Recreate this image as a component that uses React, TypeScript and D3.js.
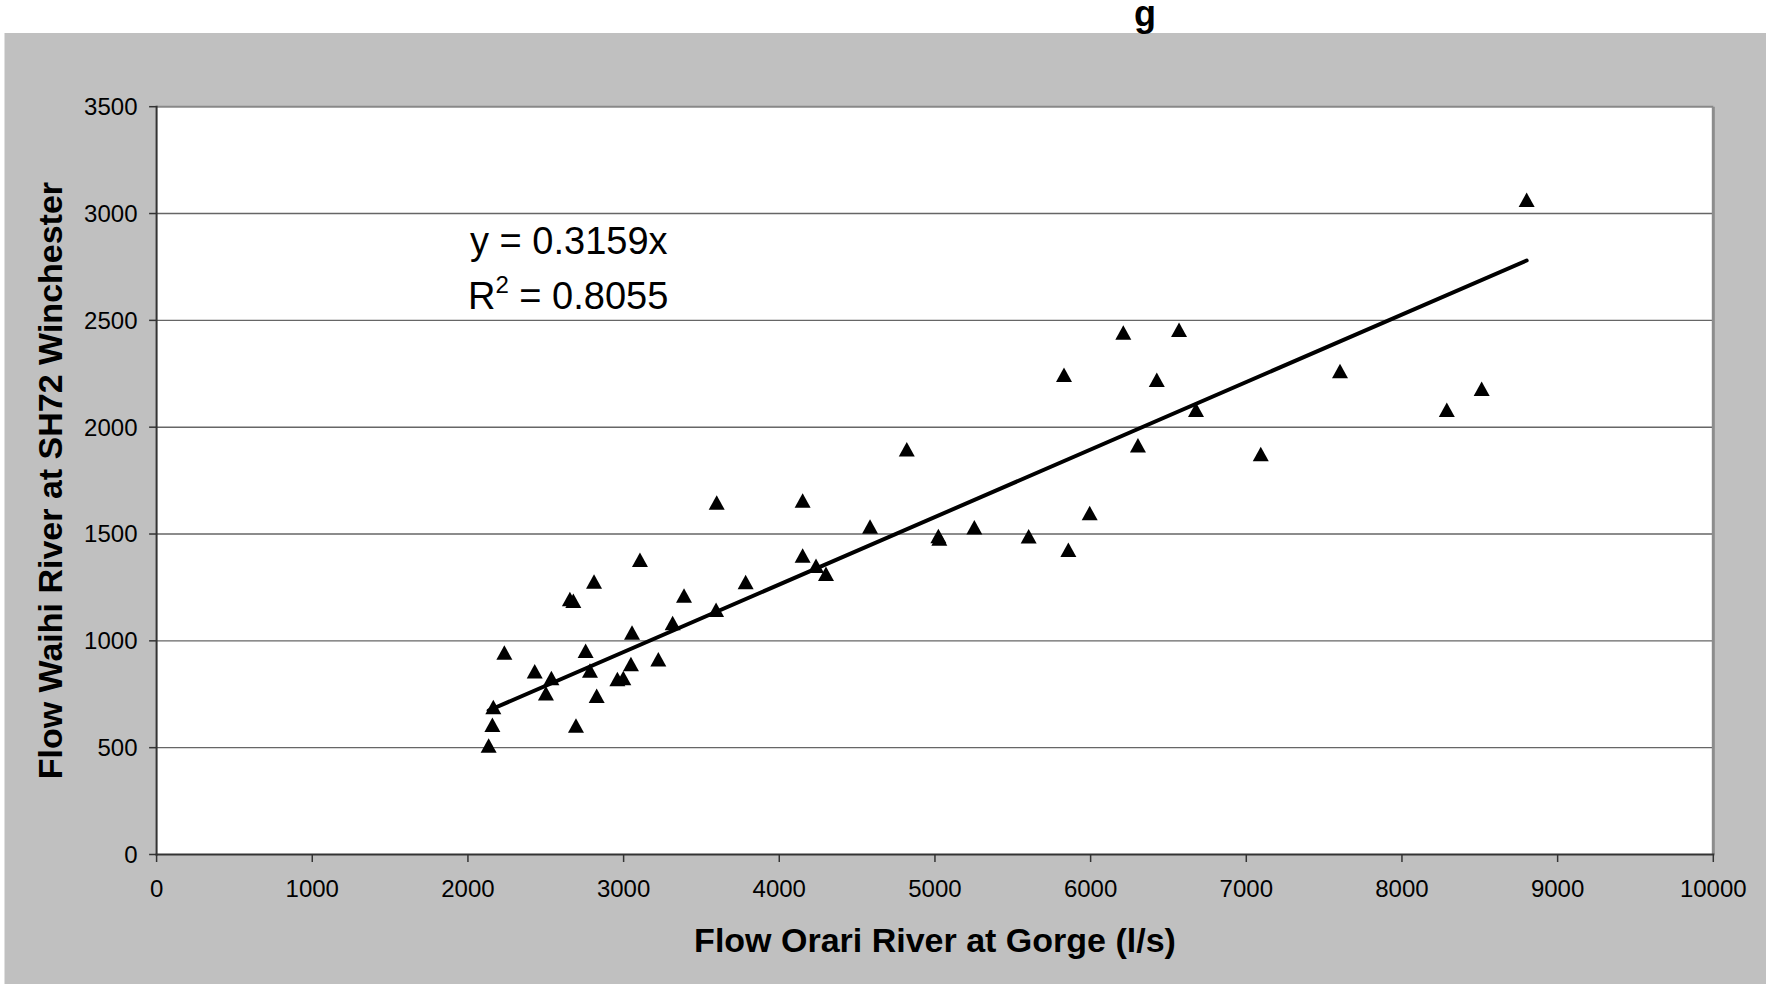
import React from "react";
import * as d3 from "d3";

const flowOrari: number[] = [
  2133, 2157, 2163, 2234, 2429, 2501, 2536, 2655, 2677, 2694, 2756, 2784, 2810, 2827,
  2960, 2998, 3047, 3054, 3105, 3223, 3315, 3388, 3594, 3598, 3784, 4150, 4150, 4236,
  4300, 4583, 4819, 5022, 5028, 5253, 5602, 5829, 5857, 5994, 6210, 6304, 6425, 6568,
  6677, 7093, 7602, 8288, 8512, 8801,
];
const flowWaihi: number[] = [
  509, 606, 689, 944, 856, 754, 825, 1195, 1186, 603, 952, 860, 1277, 742,
  820, 825, 890, 1038, 1378, 913, 1082, 1211, 1144, 1646, 1274, 1656, 1398, 1350,
  1313, 1534, 1896, 1490, 1478, 1530, 1488, 2244, 1425, 1597, 2442, 1914, 2221, 2455,
  2081, 1873, 2262, 2081, 2179, 3063,
];
const xTicks: number[] = [0, 1000, 2000, 3000, 4000, 5000, 6000, 7000, 8000, 9000, 10000];
const yTicks: number[] = [0, 500, 1000, 1500, 2000, 2500, 3000, 3500];
const slope = 0.3159;
const rSquared = "0.8055";
const titleText = "g";
const xTitle = "Flow Orari River at Gorge (l/s)";
const yTitle = "Flow Waihi River at SH72 Winchester";

const W = 1766;
const H = 984;
const L = 156.6;
const R = 1713.3;
const T = 106.7;
const B = 854.5;
const FONT = "'Liberation Sans', Arial, Helvetica, sans-serif";

export default function App() {
  const x = d3.scaleLinear().domain([0, 10000]).range([L, R]);
  const y = d3.scaleLinear().domain([0, 3500]).range([B, T]);
  const pts = flowOrari.map((v, i) => [v, flowWaihi[i]] as [number, number]);
  const xMin = d3.min(flowOrari) as number;
  const xMax = d3.max(flowOrari) as number;
  const trend = d3.line<number>().x((d) => x(d)).y((d) => y(slope * d))([xMin, xMax]) as string;
  const tri = "M0,-7.5L8,7L-8,7Z";

  return (
    <svg
      width={W}
      height={H}
      style={{ position: "absolute", left: 0, top: 0, display: "block", background: "#fff" }}
      fontFamily={FONT}
    >
      <rect x={4.5} y={33} width={W - 4.5} height={H - 33} fill="#C0C0C0" />
      <text x={1145} y={26} textAnchor="middle" fontSize={36} fontWeight="bold" fill="#000">
        {titleText}
      </text>
      <rect x={L} y={T} width={R - L} height={B - T} fill="#fff" />
      {yTicks.filter((t) => t > 0 && t < 3500).map((t) => (
        <line key={"g" + t} x1={L} x2={R} y1={y(t)} y2={y(t)} stroke="#666" strokeWidth={1.4} />
      ))}
      <line x1={L} x2={R} y1={y(3500)} y2={y(3500)} stroke="#888" strokeWidth={2} />
      <line x1={R} x2={R} y1={T} y2={B} stroke="#8c8c8c" strokeWidth={3} />
      <line x1={L} x2={L} y1={T - 1} y2={B + 1} stroke="#333" strokeWidth={2} />
      <line x1={L - 1} x2={R + 1} y1={B} y2={B} stroke="#333" strokeWidth={2} />
      {yTicks.map((t) => (
        <g key={"yt" + t}>
          <line x1={L - 7.5} x2={L} y1={y(t)} y2={y(t)} stroke="#333" strokeWidth={1.5} />
          <text x={137.5} y={y(t)} dy="0.35em" textAnchor="end" fontSize={24} fill="#000">
            {t}
          </text>
        </g>
      ))}
      {xTicks.map((t) => (
        <g key={"xt" + t}>
          <line x1={x(t)} x2={x(t)} y1={B} y2={B + 7.5} stroke="#333" strokeWidth={1.5} />
          <text x={x(t)} y={897} textAnchor="middle" fontSize={24} fill="#000">
            {t}
          </text>
        </g>
      ))}
      <path d={trend} stroke="#000" strokeWidth={4} fill="none" strokeLinecap="round" />
      {pts.map((p, i) => (
        <path key={"p" + i} d={tri} transform={`translate(${x(p[0])},${y(p[1])})`} fill="#000" />
      ))}
      <text x={470} y={254} fontSize={38} fill="#000">
        {`y = ${slope}x`}
      </text>
      <text x={468} y={309} fontSize={38} fill="#000">
        R<tspan fontSize={24} dy={-16}>2</tspan>
        <tspan dy={16}>{` = ${rSquared}`}</tspan>
      </text>
      <text x={935} y={952} textAnchor="middle" fontSize={34} fontWeight="bold" fill="#000">
        {xTitle}
      </text>
      <text
        transform={`translate(62,${(T + B) / 2}) rotate(-90)`}
        textAnchor="middle"
        fontSize={34}
        fontWeight="bold"
        fill="#000"
      >
        {yTitle}
      </text>
    </svg>
  );
}
